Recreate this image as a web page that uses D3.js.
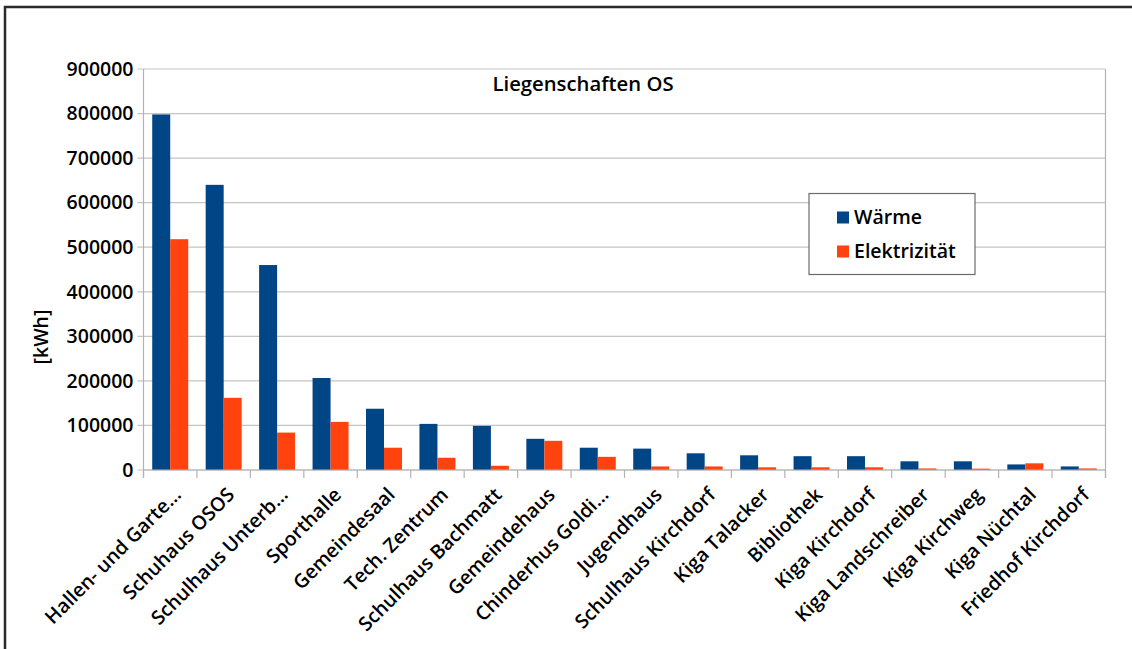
<!DOCTYPE html>
<html>
<head>
<meta charset="utf-8">
<script src="https://cdn.jsdelivr.net/npm/d3@7"></script>
<style>
  html, body { margin: 0; padding: 0; background: #fff; }
  svg { display: block; }
  text { font-family: "Open Sans", sans-serif; font-weight: 600; fill: #000; }
</style>
</head>
<body>
<svg id="chart" width="1132" height="649"></svg>
<script>
// Buildings (Liegenschaften) and their annual energy use in kWh
const categories = [
  "Hallen- und Garte...", "Schuhaus OSOS", "Schulhaus Unterb...", "Sporthalle",
  "Gemeindesaal", "Tech. Zentrum", "Schulhaus Bachmatt", "Gemeindehaus",
  "Chinderhus Goldi...", "Jugendhaus", "Schulhaus Kirchdorf", "Kiga Talacker",
  "Bibliothek", "Kiga Kirchdorf", "Kiga Landschreiber", "Kiga Kirchweg",
  "Kiga Nüchtal", "Friedhof Kirchdorf"
];
const waerme = [798000, 640000, 460000, 206500, 137500, 103500, 99000, 70000,
  50000, 48000, 37500, 33000, 31000, 31000, 19500, 19500, 12500, 8000];
const elektrizitaet = [518000, 162000, 84000, 108000, 50000, 27500, 9500, 65500,
  29500, 8000, 8000, 6000, 6000, 6000, 3500, 3000, 15000, 3500];
const seriesNames = ["Wärme", "Elektrizität"];
const seriesColors = ["#004586", "#ff420e"];
const yTicks = [0, 100000, 200000, 300000, 400000, 500000, 600000, 700000, 800000, 900000];
const chartTitle = "Liegenschaften OS";
const yTitle = "[kWh]";

const svg = d3.select("#chart");
const plot = { left: 143.5, right: 1105.5, top: 69, bottom: 470 };

// outer frame of the chart object
svg.append("path")
  .attr("d", "M5,649 L5,7 L1132,7")
  .attr("fill", "none")
  .attr("stroke", "#2a2a2a")
  .attr("stroke-width", 2.5);

const x = d3.scaleBand().domain(categories).range([plot.left, plot.right]).padding(0);
const x1 = d3.scaleBand().domain(seriesNames).range([0, x.bandwidth()])
  .paddingInner(0).paddingOuter(0.485);
const y = d3.scaleLinear().domain([0, 900000]).range([plot.bottom, plot.top]);

// horizontal gridlines
svg.append("g")
  .selectAll("line")
  .data(yTicks)
  .join("line")
  .attr("x1", plot.left - 6)
  .attr("x2", plot.right)
  .attr("y1", d => y(d))
  .attr("y2", d => y(d))
  .attr("stroke", "#c4c4c4")
  .attr("stroke-width", 1.2);

// plot area side walls
svg.append("line")
  .attr("x1", plot.left).attr("x2", plot.left)
  .attr("y1", plot.top).attr("y2", plot.bottom + 8)
  .attr("stroke", "#b3b3b3").attr("stroke-width", 1.2);
svg.append("line")
  .attr("x1", plot.right).attr("x2", plot.right)
  .attr("y1", plot.top).attr("y2", plot.bottom + 8)
  .attr("stroke", "#b3b3b3").attr("stroke-width", 1.2);

// y axis labels
const yAxis = d3.axisLeft(y).tickValues(yTicks).tickSize(0).tickPadding(10)
  .tickFormat(d3.format("d"));
const gy = svg.append("g").attr("transform", `translate(${plot.left},0)`).call(yAxis);
gy.select(".domain").remove();
gy.selectAll("text")
  .style("font-size", "19.5px")
  .style("font-family", "'Open Sans', sans-serif")
  .style("font-weight", 600)
  .attr("fill", "#000");

// bars
const groups = svg.append("g")
  .selectAll("g")
  .data(categories)
  .join("g")
  .attr("transform", d => `translate(${x(d)},0)`);

groups.selectAll("rect")
  .data((d, i) => [
    { s: seriesNames[0], v: waerme[i] },
    { s: seriesNames[1], v: elektrizitaet[i] }
  ])
  .join("rect")
  .attr("x", d => x1(d.s))
  .attr("width", x1.bandwidth())
  .attr("y", d => y(d.v))
  .attr("height", d => y(0) - y(d.v))
  .attr("fill", (d, i) => seriesColors[i]);

// x axis: baseline and category boundary ticks
svg.append("line")
  .attr("x1", plot.left).attr("x2", plot.right)
  .attr("y1", plot.bottom).attr("y2", plot.bottom)
  .attr("stroke", "#b3b3b3").attr("stroke-width", 1.2);
const boundaries = categories.map(c => x(c)).concat([plot.right]);
svg.append("g")
  .selectAll("line")
  .data(boundaries)
  .join("line")
  .attr("x1", d => d).attr("x2", d => d)
  .attr("y1", plot.bottom).attr("y2", plot.bottom + 8)
  .attr("stroke", "#b3b3b3").attr("stroke-width", 1.2);

// rotated category labels
svg.append("g")
  .selectAll("text")
  .data(categories)
  .join("text")
  .attr("text-anchor", "end")
  .attr("transform", d => `translate(${x(d) + x.bandwidth() / 2 + 12},${plot.bottom + 26}) rotate(-45)`)
  .style("font-size", "19.5px")
  .text(d => d);

// chart title
svg.append("text")
  .attr("x", 583)
  .attr("y", 91)
  .attr("text-anchor", "middle")
  .style("font-size", "20.3px")
  .text(chartTitle);

// y axis title
svg.append("text")
  .attr("transform", "translate(48,337) rotate(-90)")
  .attr("text-anchor", "middle")
  .style("font-size", "19.5px")
  .text(yTitle);

// legend
const legend = svg.append("g").attr("transform", "translate(809,193.5)");
legend.append("rect")
  .attr("width", 166).attr("height", 81)
  .attr("fill", "#fff")
  .attr("stroke", "#6b6b6b").attr("stroke-width", 1.2);
const items = legend.selectAll("g.item")
  .data(seriesNames)
  .join("g")
  .attr("class", "item")
  .attr("transform", (d, i) => `translate(28,${18 + i * 34})`);
items.append("rect")
  .attr("width", 12).attr("height", 12)
  .attr("fill", (d, i) => seriesColors[i]);
items.append("text")
  .attr("x", 17)
  .attr("y", 12.5)
  .style("font-size", "19.5px")
  .text(d => d);
</script>
</body>
</html>
